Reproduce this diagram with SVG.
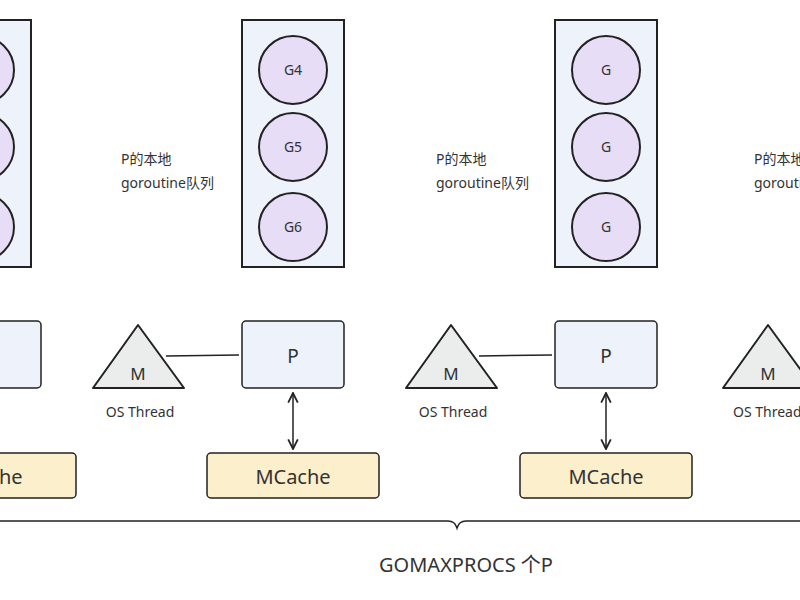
<svg xmlns="http://www.w3.org/2000/svg" width="800" height="600" viewBox="0 0 800 600">
<style>
.q{fill:#eef2fb;stroke:#222;stroke-width:2}
.g{fill:#e8ddf6;stroke:#222;stroke-width:2}
.p{fill:#eef2fb;stroke:#222;stroke-width:1.5}
.mc{fill:#fbefcc;stroke:#222;stroke-width:1.5}
.m{fill:#ebedec;stroke:#222;stroke-width:2;stroke-linejoin:round}
.t{font-family:"Noto Sans","Noto Sans CJK SC",sans-serif;fill:#333;text-anchor:middle}
.l{font-family:"Noto Sans","Noto Sans CJK SC",sans-serif;fill:#333;font-size:14px}
.c{stroke:#222;stroke-width:1.5;fill:none}
</style>
<defs>
<marker id="a" viewBox="0 0 10 10" refX="9" refY="5" markerWidth="8" markerHeight="8" orient="auto-start-reverse"><path d="M1,1 L9,5 L1,9" fill="none" stroke="#222" stroke-width="1.5"/></marker>
</defs>
<rect width="800" height="600" fill="#fff"/>
<g id="queue0"><rect class="q" x="-71" y="20" width="102" height="247"/>
<circle class="g" cx="-20" cy="70" r="34"/><circle class="g" cx="-20" cy="147" r="34"/><circle class="g" cx="-20" cy="227" r="34"/></g>
<g id="queue1"><rect class="q" x="242" y="20" width="102" height="247"/>
<circle class="g" cx="293" cy="70" r="34"/><text class="t" x="293" y="75" font-size="14">G4</text>
<circle class="g" cx="293" cy="147" r="34"/><text class="t" x="293" y="152" font-size="14">G5</text>
<circle class="g" cx="293" cy="227" r="34"/><text class="t" x="293" y="232" font-size="14">G6</text></g>
<g id="queue2"><rect class="q" x="555" y="20" width="102" height="247"/>
<circle class="g" cx="606" cy="70" r="34"/><text class="t" x="606" y="75" font-size="14">G</text>
<circle class="g" cx="606" cy="147" r="34"/><text class="t" x="606" y="152" font-size="14">G</text>
<circle class="g" cx="606" cy="227" r="34"/><text class="t" x="606" y="232" font-size="14">G</text></g>
<g id="labels"><text class="l" x="121" y="164">P的本地</text><text class="l" x="121" y="188">goroutine队列</text>
<text class="l" x="436" y="164">P的本地</text><text class="l" x="436" y="188">goroutine队列</text>
<text class="l" x="754" y="164">P的本地</text><text class="l" x="754" y="188">goroutine队列</text></g>
<g id="connectors">
<line class="c" x1="166" y1="356" x2="239" y2="355"/>
<line class="c" x1="479" y1="356" x2="552" y2="355"/>
<line class="c" x1="293" y1="393" x2="293" y2="449" marker-start="url(#a)" marker-end="url(#a)"/>
<line class="c" x1="606" y1="393" x2="606" y2="449" marker-start="url(#a)" marker-end="url(#a)"/>
<path class="c" d="M0,521 H448 Q455,521 457,528 Q459,521 466,521 H800"/>
</g>
<g id="p0"><rect class="p" x="-71" y="321" width="112" height="67" rx="4"/></g>
<g id="p1"><rect class="p" x="242" y="321" width="102" height="67" rx="4"/><text class="t" x="293" y="363" font-size="19">P</text></g>
<g id="p2"><rect class="p" x="555" y="321" width="102" height="67" rx="4"/><text class="t" x="606" y="363" font-size="19">P</text></g>
<g id="m1"><path class="m" d="M138,325 L184,388 L93,388 Z"/><text class="t" x="138" y="380" font-size="17">M</text><text class="l" x="140" y="417" text-anchor="middle">OS Thread</text></g>
<g id="m2"><path class="m" d="M451,325 L497,388 L406,388 Z"/><text class="t" x="451" y="380" font-size="17">M</text><text class="l" x="453" y="417" text-anchor="middle">OS Thread</text></g>
<g id="m3"><path class="m" d="M768,325 L814,388 L723,388 Z"/><text class="t" x="768" y="380" font-size="17">M</text><text class="l" x="733" y="417">OS Thread</text></g>
<g id="mc0"><rect class="mc" x="-106" y="453" width="182" height="45" rx="4"/><text class="t" x="-15" y="484" font-size="20">MCache</text></g>
<g id="mc1"><rect class="mc" x="207" y="453" width="172" height="45" rx="4"/><text class="t" x="293" y="484" font-size="20">MCache</text></g>
<g id="mc2"><rect class="mc" x="520" y="453" width="172" height="45" rx="4"/><text class="t" x="606" y="484" font-size="20">MCache</text></g>
<text class="t" x="466" y="572" font-size="20">GOMAXPROCS 个P</text>
</svg>
